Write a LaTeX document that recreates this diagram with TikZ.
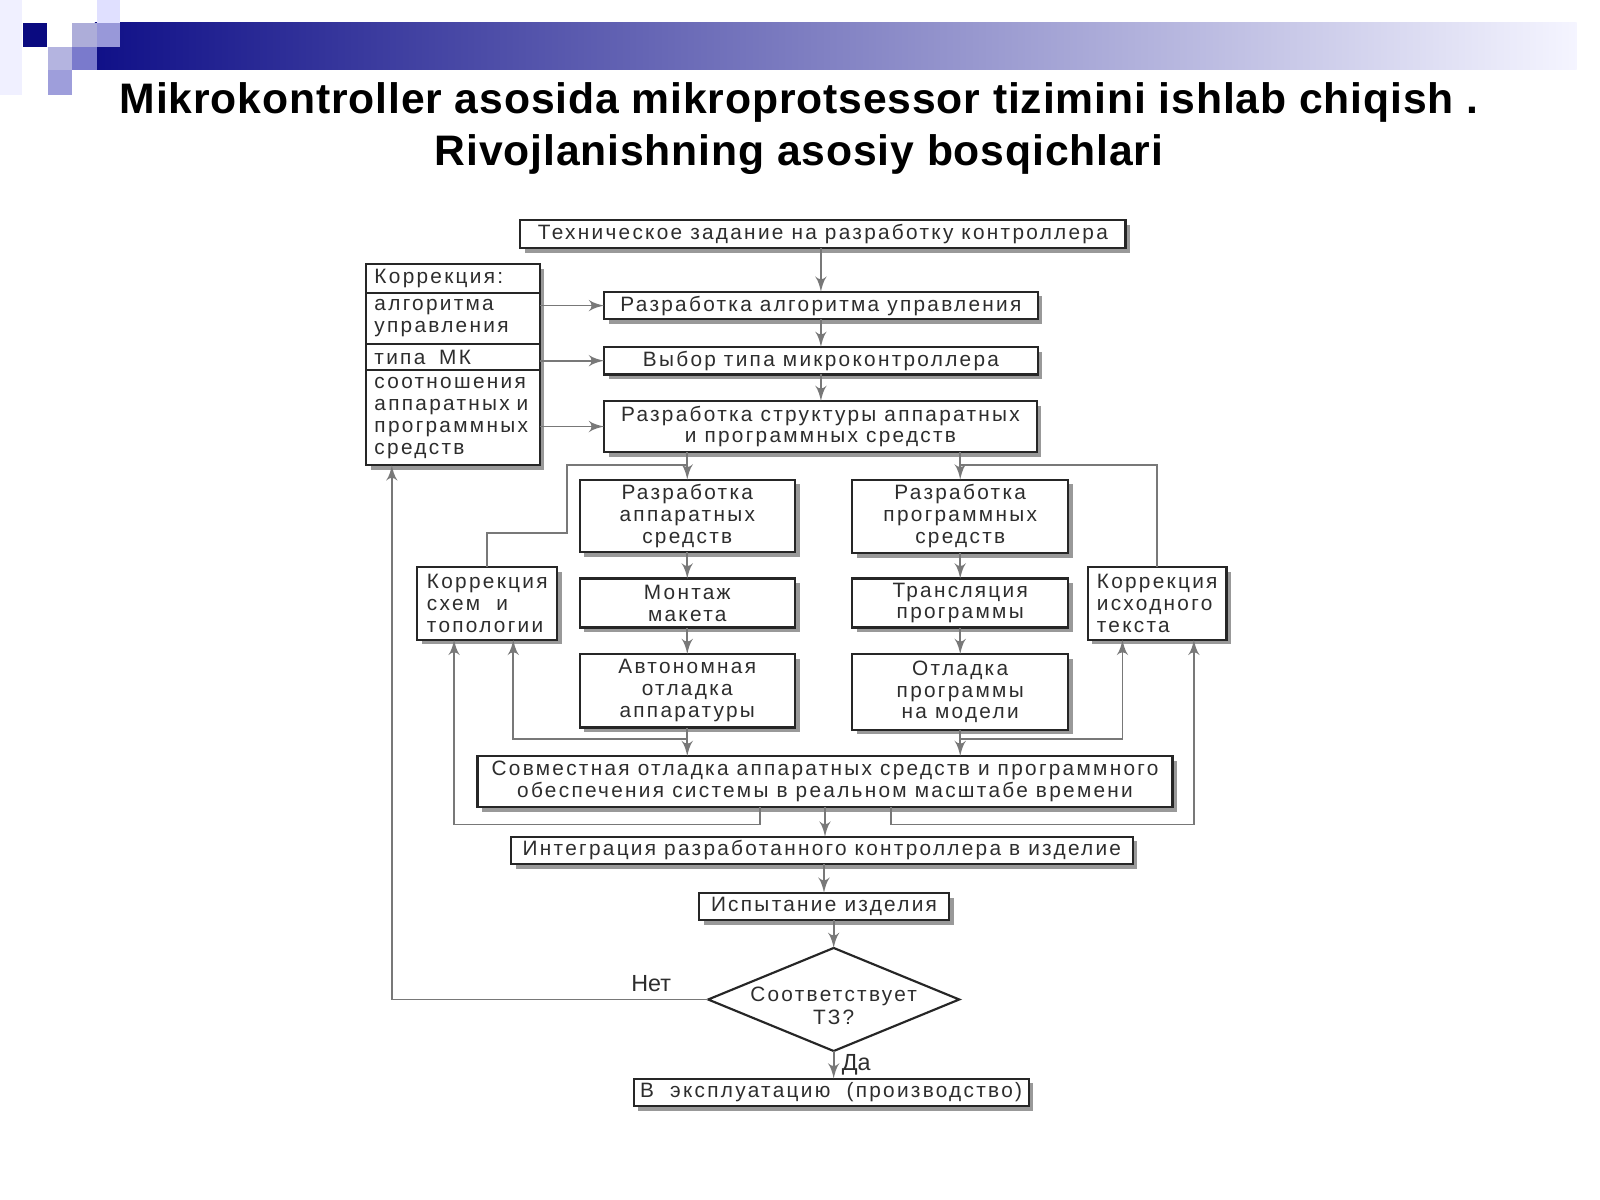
\documentclass[tikz,border=0pt]{standalone}
\usepackage{fontspec}
\setmainfont{Liberation Sans}
\newfontfamily\boxfont[LetterSpace=11]{Liberation Sans}
\newfontfamily\titlefont[LetterSpace=2]{Liberation Sans}
\usepackage{tikz}
\usetikzlibrary{arrows,positioning,shapes.geometric,shadows}
\definecolor{barblue}{RGB}{16,16,136}
\definecolor{sqdark}{RGB}{10,10,128}
\definecolor{linegray}{RGB}{120,120,120}
\definecolor{txtgray}{RGB}{45,45,45}

\begin{document}
\begin{tikzpicture}[x=1cm,y=-1cm]
\tikzset{block/.style = {shape=rectangle, draw=black!85, line width=0.6pt, fill=white, outer sep=0pt, inner xsep=1pt, inner ysep=0.5pt, align=center, text=txtgray, font={\boxfont\fontsize{5.8}{6.1}\selectfont}, drop shadow={shadow xshift=1.3pt, shadow yshift=-1.3pt, fill=black!40, opacity=1}}}
\tikzset{corr/.style = {block, align=left, text width=1.54cm, inner xsep=0.08cm, minimum width=1.7cm}}
\tikzset{decision/.style = {shape=diamond, draw=black!85, line width=0.6pt, fill=white, inner sep=0pt, outer sep=0pt, minimum width=2.46cm, minimum height=1.01cm}}
\tikzset{edge/.style = {draw=linegray, line width=0.5pt, ->, > = latex'}}
\tikzset{wire/.style = {draw=linegray, line width=0.5pt}}
\tikzset{tag/.style = {text=txtgray, font={\fontsize{6.5}{7}\selectfont}, inner sep=2pt}}
\useasboundingbox (0,0) rectangle (15.68,11.76);
\fill[white] (0,0) rectangle (15.68,11.76);
% header
\fill[blue!6] (0,0) rectangle (0.22,0.93);
\shade[left color=barblue, right color=white!96!blue] (0.93,0.225) rectangle (15.45,0.685);
\fill[sqdark] (0.225,0.225) rectangle (0.46,0.46);
\fill[blue!20!white!85!black] (0.705,0.225) rectangle (0.95,0.46);
\fill[blue!12] (0.95,0) rectangle (1.175,0.225);
\fill[blue!30!white!85!black] (0.95,0.225) rectangle (1.175,0.46);
\fill[blue!20!white!88!black] (0.47,0.46) rectangle (0.705,0.685);
\fill[blue!40!white!80!black] (0.705,0.46) rectangle (0.95,0.685);
\fill[blue!28!white!86!black] (0.47,0.685) rectangle (0.705,0.93);
\node[align=center, text=black, font={\titlefont\bfseries\fontsize{11.9}{14.7}\selectfont}] (title) at (7.83,1.26)
  {Mikrokontroller asosida mikroprotsessor tizimini ishlab chiqish .\\Rivojlanishning asosiy bosqichlari};
% main column
\node[block, minimum width=5.93cm, minimum height=0.27cm] (tz) at (8.065,2.295) {Техническое задание на разработку контроллера};
\node[block, minimum width=4.25cm, minimum height=0.27cm] (alg) at (8.045,2.995) {Разработка алгоритма управления};
\node[block, minimum width=4.25cm, minimum height=0.27cm] (mk) at (8.045,3.535) {Выбор типа микроконтроллера};
\node[block, minimum width=4.24cm, minimum height=0.50cm] (str) at (8.04,4.18) {Разработка структуры аппаратных\\и программных средств};
% correction list
\node[corr, minimum height=0.28cm, anchor=north west] (kor1) at (3.59,2.59) {Коррекция:};
\node[corr, minimum height=0.50cm, below=0pt of kor1] (kor2) {алгоритма\\управления};
\node[corr, minimum height=0.26cm, below=0pt of kor2] (kor3) {типа~~МК};
\node[corr, minimum height=0.93cm, below=0pt of kor3] (kor4) {соотношения\\аппаратных и\\программных\\средств};
% hardware branch
\node[block, minimum width=2.11cm, minimum height=0.71cm] (hw1) at (6.735,5.055) {Разработка\\аппаратных\\средств};
\node[block, minimum width=2.11cm, minimum height=0.48cm] (hw2) at (6.735,5.91) {Монтаж\\макета};
\node[block, minimum width=2.11cm, minimum height=0.72cm] (hw3) at (6.735,6.77) {Автономная\\отладка\\аппаратуры};
\node[block, align=left, minimum width=1.37cm, minimum height=0.71cm] (korH) at (4.775,5.915) {Коррекция\\схем~~и\\топологии};
% software branch
\node[block, minimum width=2.12cm, minimum height=0.72cm] (sw1) at (9.41,5.06) {Разработка\\программных\\средств};
\node[block, minimum width=2.12cm, minimum height=0.48cm] (sw2) at (9.41,5.91) {Трансляция\\программы};
\node[block, minimum width=2.12cm, minimum height=0.74cm] (sw3) at (9.41,6.78) {Отладка\\программы\\на модели};
\node[block, align=left, minimum width=1.36cm, minimum height=0.71cm] (korS) at (11.34,5.915) {Коррекция\\исходного\\текста};
% lower column
\node[block, minimum width=6.81cm, minimum height=0.50cm] (joint) at (8.085,7.66) {Совместная отладка аппаратных средств и программного\\обеспечения системы в реальном масштабе времени};
\node[block, minimum width=6.09cm, minimum height=0.27cm] (integ) at (8.055,8.335) {Интеграция разработанного контроллера в изделие};
\node[block, minimum width=2.45cm, minimum height=0.27cm] (test) at (8.075,8.885) {Испытание изделия};
\node[decision, label={[text=txtgray, align=center, font={\boxfont\fontsize{5.8}{6.3}\selectfont}, yshift=-0.6mm]center:Соответствует\\ТЗ?}] (dec) at (8.17,9.795) {};
\node[block, minimum width=3.87cm, minimum height=0.27cm] (prod) at (8.145,10.705) {В~~эксплуатацию~~(производство)};
% junctions
\coordinate (hwj) at (6.735,4.56);
\coordinate (swj) at (9.41,4.56);
\coordinate (hwk) at (6.735,7.24);
\coordinate (swk) at (9.41,7.24);
% edges
\draw[edge] (tz.south -| alg) -- (alg.north);
\draw[edge] (alg) -- (mk);
\draw[edge] (mk) -- (mk |- str.north);
\draw[edge] (kor2.east |- alg.west) -- (alg.west);
\draw[edge] (kor3.east |- mk.west) -- (mk.west);
\draw[edge] (kor4.east |- str.west) -- (str.west);
\draw[edge] (hw1.north |- str.south) -- (hw1.north);
\draw[edge] (sw1.north |- str.south) -- (sw1.north);
\draw[wire] (korH.north) |- (5.56,5.22) |- (hwj);
\draw[wire] (korS.north) |- (swj);
\draw[edge] (hw1) -- (hw2);
\draw[edge] (hw2) -- (hw3);
\draw[edge] (sw1) -- (sw2);
\draw[edge] (sw2) -- (sw3);
\draw[edge] (hw3) -- (hw3 |- joint.north);
\draw[edge] (sw3) -- (sw3 |- joint.north);
%edges to corrections
\draw[edge] (hwk) -| ([xshift=2.55mm]korH.south);
\draw[edge] (swk) -| ([xshift=-3.4mm]korS.south);
\draw[edge] ([xshift=-6.35mm]joint.south) -- ++(0,0.17) -| ([xshift=-3.25mm]korH.south);
\draw[edge] ([xshift=6.45mm]joint.south) -- ++(0,0.17) -| ([xshift=3.6mm]korS.south);
% final checks
\draw[edge] (joint) -- (joint |- integ.north);
\draw[edge] (test.north |- integ.south) -- (test.north);
\draw[edge] (dec.north |- test.south) -- (dec.north);
\draw[edge] (dec.south) -- (dec.south |- prod.north) node[tag, midway, right] {Да};
\draw[edge] (dec.west) -| ([xshift=-6mm]kor4.south) node[tag, pos=0.09, above] {Нет};

\end{tikzpicture}
\end{document}
